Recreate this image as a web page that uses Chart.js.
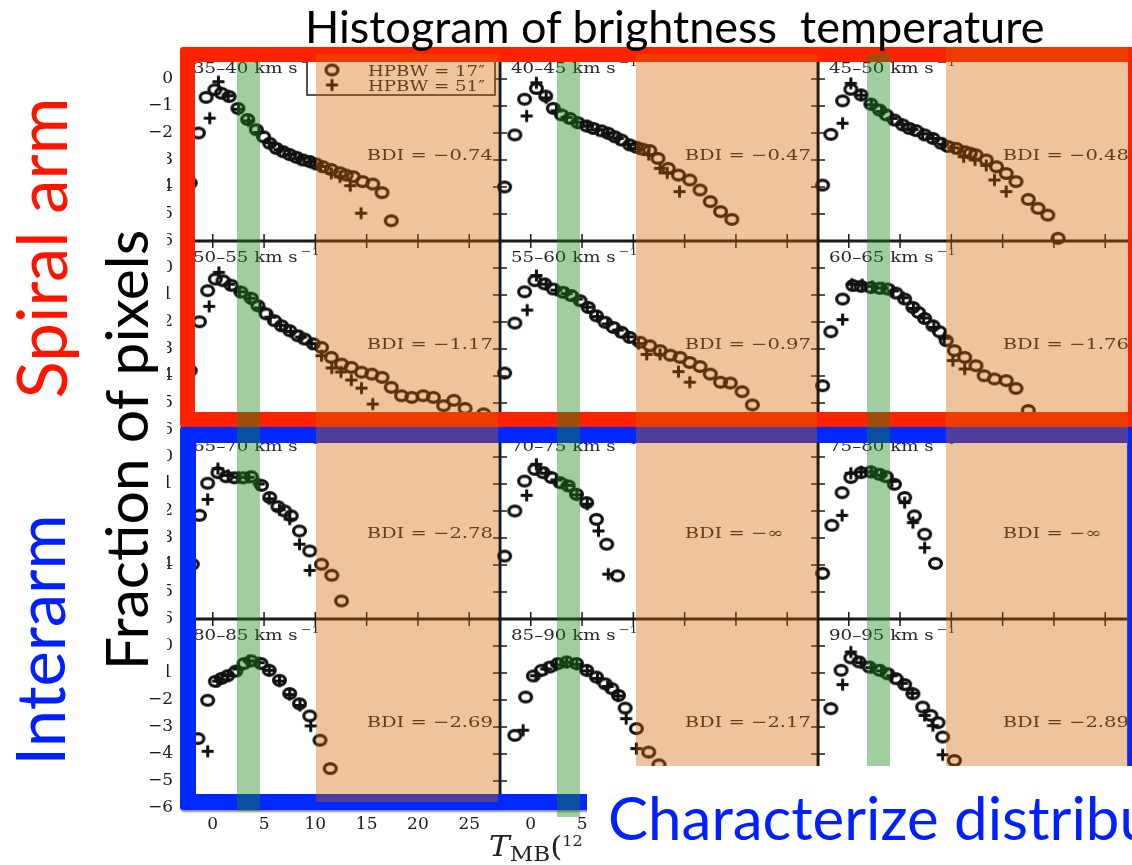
<!DOCTYPE html>
<html>
<head>
<meta charset="utf-8">
<title>Histogram of brightness temperature</title>
<script src="https://cdn.jsdelivr.net/npm/chart.js@4.4.1/dist/chart.umd.min.js"></script>
<style>
  html, body { margin: 0; padding: 0; background: #fff; }
  #stage { position: relative; width: 1132px; height: 865px; overflow: hidden; background: #fff; }
  #panels canvas { position: absolute; }
  .box { position: absolute; box-sizing: border-box; }
  .txt { position: absolute; white-space: pre; line-height: 1; font-family: Lato, "Open Sans", sans-serif; }
  .rot { transform: translate(-50%, -50%) rotate(-90deg); }
</style>
</head>
<body>
<div id="stage">
  <div id="panels"></div>

  <div id="xlabel" class="box" style="left:489px; top:833px; font-family:'DejaVu Serif'; color:#222; white-space:nowrap; line-height:1; transform-origin:0 0; transform:scaleX(1.15);">
    <span style="font-style:italic; font-size:27px;">T</span><span style="font-size:20px; position:relative; top:5px;">MB</span><span style="font-size:27px;">(</span><span style="font-size:14px; position:relative; top:-10px;">12</span><span style="font-size:27px;"> CO) [K]</span>
  </div>

  <!-- region outlines -->
  <div class="box" style="left:180px; top:47px; width:963px; height:380px; border:15px solid rgb(255,34,0); border-radius:3px;"></div>
  <div class="box" style="left:180px; top:427px; width:963px; height:383px; border:16px solid rgb(0,40,255); border-radius:3px; box-shadow:1px 2px 2px rgba(0,0,0,0.45);"></div>

  <!-- temperature ranges highlighted across every row -->
  <div class="box" style="left:237px; top:62px; width:23px; height:749px; background:rgba(25,137,25,0.41);"></div>
  <div class="box" style="left:557px; top:62px; width:23px; height:755px; background:rgba(25,137,25,0.41);"></div>
  <div class="box" style="left:867px; top:54px; width:23px; height:748px; background:rgba(25,137,25,0.41);"></div>
  <div class="box" style="left:316px; top:54px; width:182px; height:748px; background:rgba(210,100,0,0.38);"></div>
  <div class="box" style="left:636px; top:54px; width:181px; height:748px; background:rgba(210,100,0,0.38);"></div>
  <div class="box" style="left:946px; top:47px; width:182px; height:755px; background:rgba(210,100,0,0.38);"></div>

  <!-- slide captions -->
  <div class="box" style="left:95px; top:142px; width:72px; height:546px; background:#fff;"></div>
  <div class="txt rot" style="left:125px; top:450px; font-size:59px; color:#000;">Fraction of pixels</div>
  <div class="txt rot" style="left:40px; top:248px; font-size:69px; color:rgb(255,20,0);">Spiral arm</div>
  <div class="txt rot" style="left:39px; top:640px; font-size:67px; color:rgb(0,32,255);">Interarm</div>
  <div class="txt" style="left:305px; top:4px; font-size:45px; color:#000;">Histogram of brightness  temperature</div>
  <div class="box" style="left:587px; top:766px; width:545px; height:99px; background:#fff;"></div>
  <div class="txt" style="left:608px; top:787px; font-size:60px; color:rgb(0,32,255);">Characterize distribution</div>
</div>

<script>
// ---------- axis ticks ----------
const X_TICKS = [0, 5, 10, 15, 20, 25];
const Y_TICKS = [0, -1, -2, -3, -4, -5, -6];

// ---------- velocity bins and their brightness distribution index ----------
const VELOCITY_BINS = ['35–40', '40–45', '45–50', '50–55', '55–60', '60–65',
                       '65–70', '70–75', '75–80', '80–85', '85–90', '90–95'];
const BDI_VALUES = ['−0.74', '−0.47', '−0.48', '−1.17', '−0.97', '−1.76',
                    '−2.78', '−∞', '−∞', '−2.69', '−2.17', '−2.89'];

// ---------- log fraction of pixels vs T_MB, [T, log10 f] ----------
const hpbw17_35_40 = [[-2.2,-3.85],[-1.4,-2.0],[-0.65,-0.68],[0.2,-0.4],[0.85,-0.53],[1.6,-0.65],[2.45,-1.09],[3.4,-1.5],[4.25,-1.88],[4.95,-2.14],[5.55,-2.38],[6.2,-2.57],[6.85,-2.69],[7.5,-2.8],[8.15,-2.9],[8.8,-3.0],[9.45,-3.06],[10.1,-3.15],[10.75,-3.25],[11.55,-3.35],[12.4,-3.47],[13.0,-3.56],[13.7,-3.62],[14.6,-3.8],[15.6,-3.89],[16.5,-4.21],[17.4,-5.25]];
const hpbw51_35_40 = [[-0.3,-1.45],[0.55,-0.1],[1.5,-0.62],[2.5,-1.12],[3.5,-1.55],[4.5,-1.98],[5.5,-2.36],[6.5,-2.62],[7.5,-2.8],[8.5,-2.95],[9.5,-3.08],[10.5,-3.24],[11.55,-3.49],[12.4,-3.62],[13.4,-3.95],[14.45,-4.97]];

const hpbw17_40_45 = [[-2.55,-4.0],[-1.55,-2.07],[-0.6,-0.75],[0.55,-0.35],[1.45,-0.63],[2.2,-1.09],[3.0,-1.33],[3.8,-1.46],[4.6,-1.62],[5.45,-1.74],[6.1,-1.83],[6.9,-1.92],[7.55,-2.01],[8.2,-2.14],[8.85,-2.26],[9.65,-2.44],[10.3,-2.53],[10.95,-2.6],[11.6,-2.65],[12.4,-2.94],[13.4,-3.31],[14.4,-3.56],[15.5,-3.74],[16.5,-4.11],[17.5,-4.54],[18.5,-4.91],[19.6,-5.2]];
const hpbw51_40_45 = [[-0.4,-1.37],[0.55,-0.14],[1.5,-0.7],[2.5,-1.18],[3.5,-1.42],[4.5,-1.6],[5.5,-1.75],[6.5,-1.88],[7.5,-2.0],[8.5,-2.2],[9.5,-2.42],[10.5,-2.58],[11.5,-2.8],[12.6,-3.31],[13.3,-3.48],[14.5,-4.17]];

const hpbw17_45_50 = [[-2.55,-3.93],[-1.75,-2.05],[-0.6,-0.81],[0.2,-0.38],[1.2,-0.59],[2.15,-0.93],[3.0,-1.15],[3.65,-1.33],[4.45,-1.52],[5.25,-1.7],[5.9,-1.83],[6.55,-1.91],[7.4,-2.07],[8.2,-2.2],[9.0,-2.38],[9.65,-2.5],[10.5,-2.57],[11.3,-2.69],[11.85,-2.75],[12.4,-2.81],[13.4,-3.0],[14.4,-3.25],[15.35,-3.5],[16.3,-3.8],[17.5,-4.46],[18.45,-4.79],[19.4,-5.04],[20.4,-5.9]];
const hpbw51_45_50 = [[-0.6,-1.64],[0.2,-0.16],[1.2,-0.6],[2.2,-0.95],[3.2,-1.2],[4.2,-1.46],[5.2,-1.68],[6.2,-1.87],[7.2,-2.03],[8.2,-2.2],[9.2,-2.42],[10.2,-2.55],[11.2,-2.88],[12.3,-3.0],[13.4,-3.2],[14.2,-3.74],[15.35,-4.17]];

const hpbw17_50_55 = [[-2.2,-3.8],[-1.3,-1.99],[-0.5,-0.84],[0.25,-0.41],[1.0,-0.47],[1.8,-0.64],[2.75,-0.89],[3.75,-1.12],[4.4,-1.4],[5.2,-1.7],[6.0,-1.95],[6.7,-2.14],[7.5,-2.32],[8.3,-2.51],[8.95,-2.63],[9.8,-2.81],[10.6,-2.94],[11.55,-3.31],[12.55,-3.56],[13.5,-3.68],[14.5,-3.86],[15.5,-3.93],[16.5,-4.05],[17.4,-4.42],[18.4,-4.73],[19.4,-4.79],[20.5,-4.73],[21.5,-4.79],[22.5,-5.1],[23.5,-4.9],[24.6,-5.2],[26.4,-5.4]];
const hpbw51_50_55 = [[-0.35,-1.42],[0.6,-0.16],[1.6,-0.6],[2.6,-0.88],[3.6,-1.12],[4.6,-1.48],[5.6,-1.82],[6.6,-2.12],[7.6,-2.35],[8.6,-2.56],[9.6,-2.8],[10.6,-3.25],[11.6,-3.7],[12.5,-3.85],[13.5,-4.15],[14.5,-4.45],[15.6,-5.04]];

const hpbw17_55_60 = [[-2.55,-3.89],[-1.55,-2.04],[-0.6,-0.88],[0.4,-0.47],[1.35,-0.59],[2.2,-0.78],[3.15,-0.9],[3.95,-1.02],[4.8,-1.21],[5.6,-1.46],[6.4,-1.77],[7.25,-2.01],[8.05,-2.2],[8.85,-2.38],[9.65,-2.57],[10.65,-2.75],[11.6,-2.88],[12.6,-3.06],[13.6,-3.23],[14.55,-3.31],[15.5,-3.5],[16.5,-3.65],[17.5,-3.93],[18.5,-4.23],[19.45,-4.26],[20.6,-4.58],[21.6,-5.07]];
const hpbw51_55_60 = [[-0.35,-1.56],[0.55,-0.28],[1.5,-0.6],[2.5,-0.82],[3.5,-0.95],[4.5,-1.15],[5.5,-1.45],[6.5,-1.8],[7.5,-2.07],[8.5,-2.3],[9.5,-2.55],[10.5,-2.8],[11.3,-3.2],[12.6,-3.2],[14.4,-3.84],[15.5,-4.23]];

const hpbw17_60_65 = [[-2.55,-4.36],[-1.75,-2.36],[-0.6,-1.15],[0.4,-0.65],[1.2,-0.68],[2.15,-0.72],[3.0,-0.75],[3.8,-0.78],[4.6,-0.93],[5.45,-1.15],[6.25,-1.46],[6.8,-1.65],[7.4,-1.87],[8.2,-2.14],[8.85,-2.36],[9.5,-2.69],[10.3,-3.06],[11.3,-3.31],[12.4,-3.62],[13.2,-3.99],[14.2,-4.11],[15.35,-4.17],[16.3,-4.46],[17.5,-5.28]];
const hpbw51_60_65 = [[-0.6,-1.91],[0.3,-0.6],[1.3,-0.62],[2.3,-0.68],[3.3,-0.74],[4.3,-0.85],[5.3,-1.1],[6.3,-1.5],[7.3,-1.85],[8.3,-2.2],[9.3,-2.6],[10.15,-3.43],[11.3,-3.74]];

const hpbw17_65_70 = [[-2.0,-3.97],[-1.3,-2.16],[-0.5,-0.97],[0.5,-0.58],[1.3,-0.73],[2.1,-0.77],[2.95,-0.77],[3.75,-0.73],[4.75,-1.05],[5.55,-1.5],[6.35,-1.84],[7.0,-2.0],[7.65,-2.18],[8.45,-2.74],[9.45,-3.48],[10.6,-3.97],[11.6,-4.38],[12.55,-5.33]];
const hpbw51_65_70 = [[-0.5,-1.57],[0.5,-0.43],[1.5,-0.68],[2.5,-0.75],[3.5,-0.75],[4.5,-1.0],[5.5,-1.55],[6.5,-1.95],[7.5,-2.3],[8.45,-3.23],[9.45,-4.2]];

const hpbw17_70_75 = [[-2.55,-3.67],[-1.55,-2.0],[-0.6,-0.89],[0.4,-0.46],[1.2,-0.58],[2.0,-0.76],[2.85,-0.95],[3.65,-1.07],[4.45,-1.38],[5.45,-1.69],[6.4,-2.31],[7.4,-3.23],[8.45,-4.4]];
const hpbw51_70_75 = [[-0.4,-1.42],[0.55,-0.27],[1.5,-0.6],[2.5,-0.85],[3.5,-1.05],[4.5,-1.4],[5.5,-1.75],[6.6,-2.74],[7.55,-4.34]];

const hpbw17_75_80 = [[-2.55,-4.31],[-1.65,-2.53],[-0.65,-1.32],[0.2,-0.76],[1.2,-0.58],[2.15,-0.55],[3.0,-0.64],[3.65,-0.73],[4.45,-1.01],[5.45,-1.5],[6.4,-2.18],[7.4,-2.86],[8.45,-3.94]];
const hpbw51_75_80 = [[-0.65,-2.16],[0.2,-0.6],[1.2,-0.55],[2.2,-0.55],[3.2,-0.68],[4.2,-0.9],[5.45,-1.69],[6.25,-2.43],[7.4,-3.36]];

const hpbw17_80_85 = [[-1.45,-3.43],[-0.5,-2.01],[0.25,-1.31],[0.85,-1.2],[1.45,-1.1],[2.25,-0.93],[3.05,-0.65],[3.75,-0.55],[4.7,-0.65],[5.5,-0.9],[6.5,-1.27],[7.5,-1.76],[8.45,-2.14],[9.45,-2.59],[10.45,-3.49],[11.45,-4.54]];
const hpbw51_80_85 = [[-0.5,-3.9],[0.5,-1.3],[1.5,-1.1],[2.5,-0.85],[3.5,-0.55],[4.5,-0.62],[5.5,-0.9],[6.5,-1.3],[7.5,-1.8],[8.5,-2.2],[9.55,-2.96]];

const hpbw17_85_90 = [[-1.55,-3.31],[-0.5,-1.89],[0.25,-1.11],[1.05,-0.9],[1.85,-0.78],[2.65,-0.65],[3.5,-0.59],[4.45,-0.65],[5.45,-0.9],[6.4,-1.15],[7.25,-1.4],[7.9,-1.58],[8.55,-1.83],[9.2,-2.3],[10.3,-3.06],[11.5,-3.93],[12.5,-4.4]];
const hpbw51_85_90 = [[-0.75,-3.12],[0.5,-1.1],[1.5,-0.85],[2.5,-0.7],[3.5,-0.6],[4.5,-0.68],[5.5,-0.92],[6.5,-1.2],[7.5,-1.5],[8.5,-1.85],[9.3,-2.69],[10.3,-3.8]];

const hpbw17_90_95 = [[-1.75,-2.32],[-0.75,-0.9],[0.2,-0.44],[1.0,-0.59],[2.0,-0.78],[3.0,-0.9],[3.8,-1.03],[4.6,-1.21],[5.45,-1.43],[6.25,-1.77],[7.2,-2.26],[8.0,-2.57],[8.7,-2.84],[9.15,-3.37],[10.3,-4.24]];
const hpbw51_90_95 = [[-0.6,-1.43],[0.2,-0.22],[1.2,-0.62],[2.2,-0.8],[3.2,-0.92],[4.2,-1.1],[5.2,-1.38],[6.2,-1.75],[7.4,-2.57],[8.2,-2.95],[9.15,-4.03]];

const SERIES_17 = [hpbw17_35_40, hpbw17_40_45, hpbw17_45_50, hpbw17_50_55, hpbw17_55_60, hpbw17_60_65,
                   hpbw17_65_70, hpbw17_70_75, hpbw17_75_80, hpbw17_80_85, hpbw17_85_90, hpbw17_90_95];
const SERIES_51 = [hpbw51_35_40, hpbw51_40_45, hpbw51_45_50, hpbw51_50_55, hpbw51_55_60, hpbw51_60_65,
                   hpbw51_65_70, hpbw51_70_75, hpbw51_75_80, hpbw51_80_85, hpbw51_85_90, hpbw51_90_95];

// ---------- panel grid ----------
const X_RANGE = [-3, 28];
const Y_RANGE = [-6, 1];
const COL_LEFT = [182, 500, 818];
const ROW_TOP = [52, 241, 430, 619];
const PLOT_W = 318, PLOT_H = 189, MARGIN = 60;
const BDI_ANCHOR = [15, -3];          // data position of the BDI caption
const INK = '#1a1a1a', TEXT_INK = '#262626', MARK_INK = '#111';
const TICK_LEN = 7, STRETCH = 1.3;

const fmt = v => (v < 0 ? '\u2212' + Math.abs(v) : String(v));

function makeRing() {
  const c = document.createElement('canvas');
  c.width = 17; c.height = 15;
  const g = c.getContext('2d');
  g.strokeStyle = MARK_INK; g.lineWidth = 3.2;
  g.beginPath(); g.ellipse(8.5, 7.5, 5.9, 4.9, 0, 0, Math.PI * 2); g.stroke();
  return c;
}
function makeCross() {
  const c = document.createElement('canvas');
  c.width = 15; c.height = 15;
  const g = c.getContext('2d');
  g.strokeStyle = MARK_INK; g.lineWidth = 3;
  g.beginPath(); g.moveTo(1.5, 7.5); g.lineTo(13.5, 7.5); g.moveTo(7.5, 1.5); g.lineTo(7.5, 13.5); g.stroke();
  return c;
}
const RING = makeRing();
const CROSS = makeCross();

function stretched(ctx, text, x, y, sx) {
  ctx.save(); ctx.translate(x, y); ctx.scale(sx, 1); ctx.fillText(text, 0, 0); ctx.restore();
}

function drawLegend(chart, a) {
  const ctx = chart.ctx;
  const bx = a.right - 193, by = a.top + 4, bw = 188, bh = 39;
  ctx.fillStyle = '#fff'; ctx.fillRect(bx, by, bw, bh);
  ctx.strokeStyle = INK; ctx.lineWidth = 1.5; ctx.strokeRect(bx, by, bw, bh);
  ctx.textAlign = 'left'; ctx.textBaseline = 'alphabetic';
  chart.data.datasets.forEach((ds, i) => {
    const my = a.top + 18 + i * 15;
    const img = ds.pointStyle;
    ctx.drawImage(img, bx + 25 - img.width / 2, my - img.height / 2);
    ctx.fillStyle = TEXT_INK; ctx.font = '14px "DejaVu Serif"';
    stretched(ctx, ds.label, bx + 61, my + 6, STRETCH);
  });
}

// frame, inward ticks on all sides, tick labels on outer panels, captions
const panelDecor = {
  id: 'panelDecor',
  afterDatasetsDraw(chart, _args, o) {
    const { ctx, chartArea: a, scales: { x, y } } = chart;
    ctx.save();
    ctx.strokeStyle = INK; ctx.lineWidth = 1.5;
    ctx.beginPath();
    X_TICKS.forEach(v => {
      const p = x.getPixelForValue(v);
      ctx.moveTo(p, a.bottom); ctx.lineTo(p, a.bottom - TICK_LEN);
      ctx.moveTo(p, a.top); ctx.lineTo(p, a.top + TICK_LEN);
    });
    Y_TICKS.forEach(v => {
      const p = y.getPixelForValue(v);
      ctx.moveTo(a.left, p); ctx.lineTo(a.left + TICK_LEN, p);
      ctx.moveTo(a.right, p); ctx.lineTo(a.right - TICK_LEN, p);
    });
    ctx.stroke();
    ctx.lineWidth = 2.6;
    ctx.strokeRect(a.left, a.top, a.right - a.left, a.bottom - a.top);

    ctx.fillStyle = INK;
    ctx.font = '17px "DejaVu Serif"';
    if (o.yLabels) {
      ctx.textAlign = 'right'; ctx.textBaseline = 'middle';
      Y_TICKS.forEach(v => ctx.fillText(fmt(v), a.left - 9, y.getPixelForValue(v)));
    }
    if (o.xLabels) {
      ctx.textAlign = 'center'; ctx.textBaseline = 'top';
      X_TICKS.forEach(v => ctx.fillText(fmt(v), x.getPixelForValue(v), a.bottom + 8));
    }

    ctx.textAlign = 'left'; ctx.textBaseline = 'alphabetic';
    ctx.fillStyle = TEXT_INK;
    const lx = a.left + 11, ly = a.top + 21;
    ctx.font = '14px "DejaVu Serif"';
    const main = o.bin + ' km s';
    stretched(ctx, main, lx, ly, STRETCH);
    const w = ctx.measureText(main).width * STRETCH;
    ctx.font = '10px "DejaVu Serif"';
    stretched(ctx, '\u22121', lx + w + 3, ly - 7, STRETCH);

    ctx.font = '15px "DejaVu Serif"';
    stretched(ctx, 'BDI = ' + o.bdi, x.getPixelForValue(BDI_ANCHOR[0]), y.getPixelForValue(BDI_ANCHOR[1]), STRETCH);

    if (o.legend) drawLegend(chart, a);
    ctx.restore();
  }
};

const toPoints = s => s.map(([t, f]) => ({ x: t, y: f }));
const host = document.getElementById('panels');

VELOCITY_BINS.forEach((bin, i) => {
  const col = i % 3, row = Math.floor(i / 3);
  const cv = document.createElement('canvas');
  cv.width = PLOT_W + 2 * MARGIN; cv.height = PLOT_H + 2 * MARGIN;
  cv.style.width = cv.width + 'px'; cv.style.height = cv.height + 'px';
  cv.style.left = (COL_LEFT[col] - MARGIN) + 'px';
  cv.style.top = (ROW_TOP[row] - MARGIN) + 'px';
  host.appendChild(cv);

  new Chart(cv, {
    type: 'scatter',
    data: {
      datasets: [
        { label: 'HPBW = 17\u2033', data: toPoints(SERIES_17[i]), pointStyle: RING, pointRadius: 6,
          showLine: false, clip: false, order: 1 },
        { label: 'HPBW = 51\u2033', data: toPoints(SERIES_51[i]), pointStyle: CROSS, pointRadius: 6,
          showLine: false, clip: false, order: 0 }
      ]
    },
    options: {
      responsive: false,
      animation: false,
      devicePixelRatio: 1,
      events: [],
      layout: { padding: MARGIN },
      scales: {
        x: { type: 'linear', min: X_RANGE[0], max: X_RANGE[1], display: false },
        y: { type: 'linear', min: Y_RANGE[0], max: Y_RANGE[1], display: false }
      },
      plugins: {
        legend: { display: false },
        tooltip: { enabled: false },
        panelDecor: {
          bin: bin,
          bdi: BDI_VALUES[i],
          yLabels: col === 0,
          xLabels: row === 3,
          legend: i === 0
        }
      }
    },
    plugins: [panelDecor]
  });
});
</script>
</body>
</html>
